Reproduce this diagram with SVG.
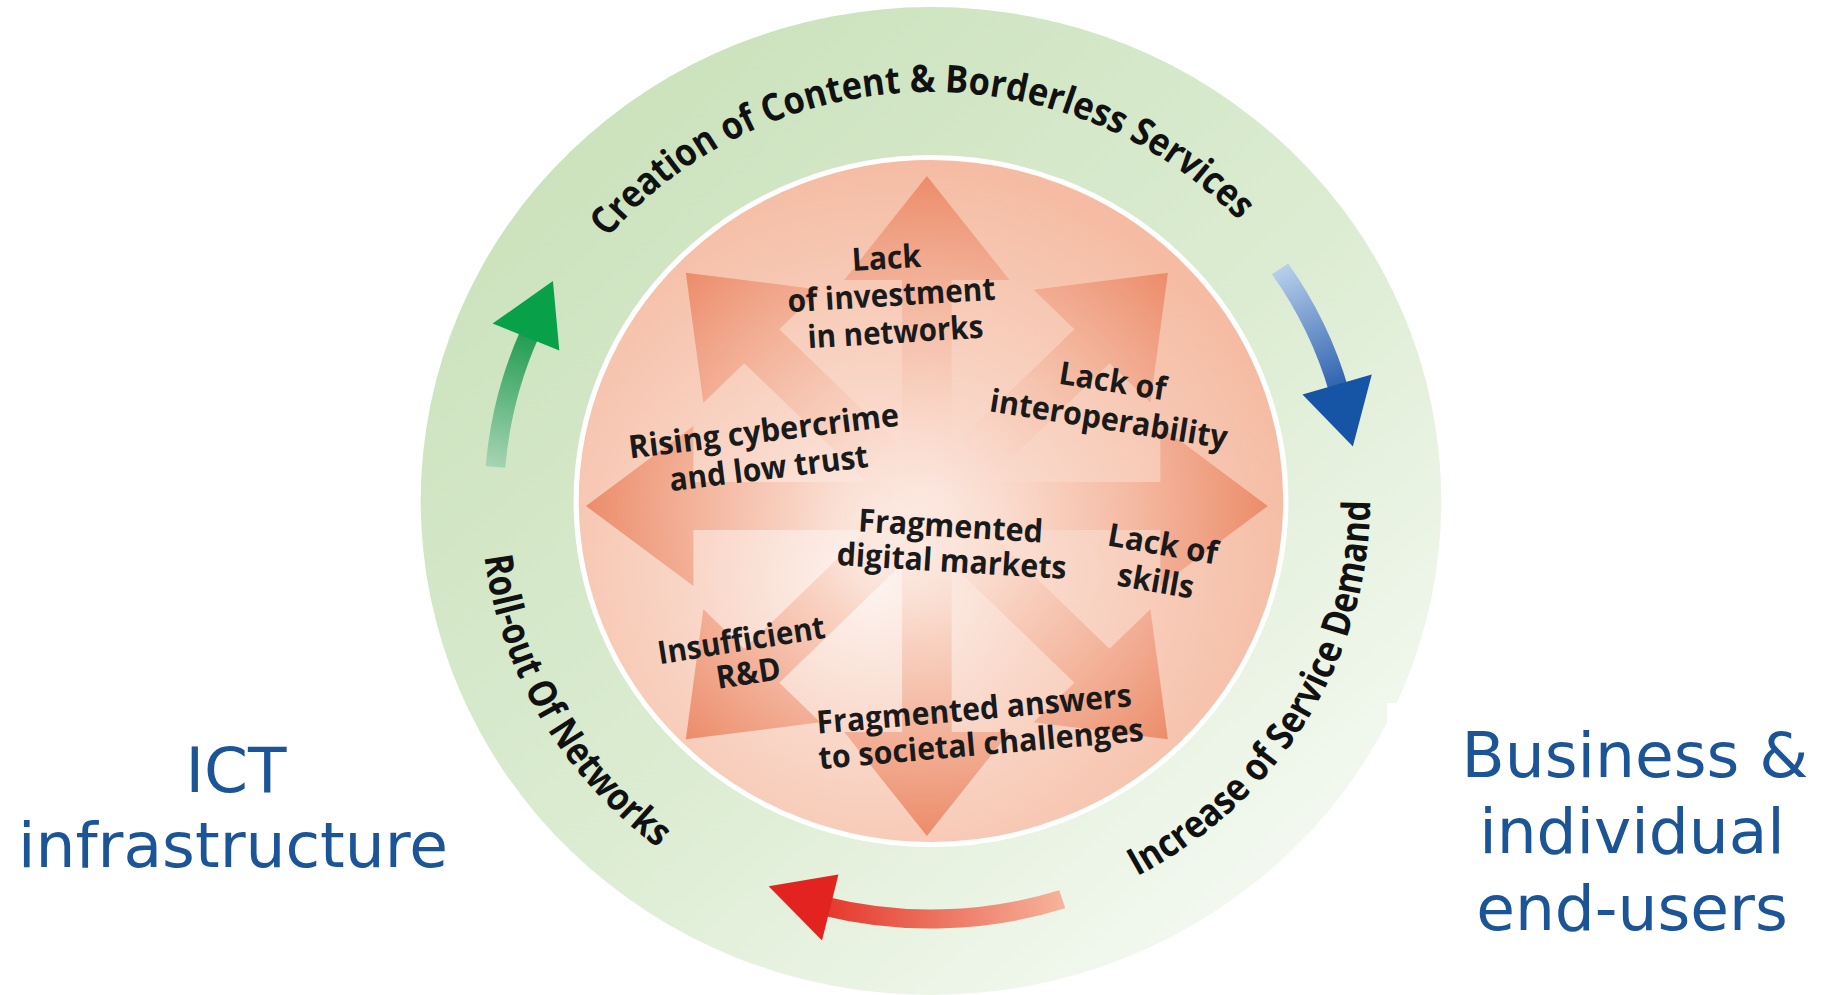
<svg xmlns="http://www.w3.org/2000/svg" width="1826" height="995" viewBox="0 0 1826 995">
<defs>
<linearGradient id="ringG" x1="0.15" y1="0.1" x2="0.85" y2="0.9">
<stop offset="0" stop-color="#cbe2bc"/>
<stop offset="0.55" stop-color="#dcecd2"/>
<stop offset="1" stop-color="#f4f9f1"/>
</linearGradient>
<radialGradient id="coreG" gradientUnits="userSpaceOnUse" cx="-40" cy="60" r="400" fx="-60" fy="80">
<stop offset="0" stop-color="#fdf4f0"/>
<stop offset="0.45" stop-color="#f9d6c7"/>
<stop offset="1" stop-color="#f5bca3"/>
</radialGradient>
<radialGradient id="burstG" gradientUnits="userSpaceOnUse" cx="0" cy="0" r="330">
<stop offset="0" stop-color="#fdeee8" stop-opacity="0.05"/>
<stop offset="0.4" stop-color="#f7c7b3" stop-opacity="0.65"/>
<stop offset="1" stop-color="#ec8c6a"/>
</radialGradient>
<linearGradient id="greenG" gradientUnits="userSpaceOnUse" x1="-421.6" y1="-33.9" x2="-387.9" y2="-168.7">
<stop offset="0" stop-color="#a6d4b3"/>
<stop offset="1" stop-color="#1f9b50"/>
</linearGradient>
<linearGradient id="blueG" gradientUnits="userSpaceOnUse" x1="337.9" y1="-232.2" x2="395.1" y2="-109.6">
<stop offset="0" stop-color="#b8cfea"/>
<stop offset="1" stop-color="#2a5fae"/>
</linearGradient>
<linearGradient id="redG" gradientUnits="userSpaceOnUse" x1="127.1" y1="398.2" x2="-104.7" y2="404.7">
<stop offset="0" stop-color="#f6b39b"/>
<stop offset="1" stop-color="#e4372a"/>
</linearGradient>
<polygon id="burst" points="0,-330 80,-226 24,-226 24,0 -24,0 -24,-226 -80,-226"/>
<path id="pTop" d="M -335,-234.6 A 409 409 0 0 1 335,-234.6"/>
<path id="pRight" d="M 138.4,401.8 A 425 425 0 0 0 419.8,-66.5"/>
<path id="pLeft" d="M -434.3,38 A 436 436 0 0 0 -250.1,357.2"/>
</defs>
<style>
.lbl{font-family:"Open Sans","Liberation Sans",sans-serif;font-weight:700;font-size:32px;fill:#1a1a1a;text-anchor:middle}
.ring{font-family:"Open Sans","Liberation Sans",sans-serif;font-weight:700;font-size:38px;fill:#111111;text-anchor:middle}
.side{font-family:"DejaVu Sans","Liberation Sans",sans-serif;font-size:63px;fill:#1b5597;text-anchor:middle}
.shaft{fill:none;stroke-width:19}
</style>
<rect width="1826" height="995" fill="#ffffff"/>
<g id="diagram" transform="translate(931,501) scale(1.033,1)">
<g id="ring">
<circle cx="0" cy="0" r="494" fill="url(#ringG)"/>
</g>
<g id="core">
<circle cx="0" cy="0" r="343.5" fill="url(#coreG)" stroke="#ffffff" stroke-width="5"/>
<g id="burst-arrows" transform="translate(-4,5)" fill="url(#burstG)">
<use href="#burst"/>
<use href="#burst" transform="rotate(45)"/>
<use href="#burst" transform="rotate(90)"/>
<use href="#burst" transform="rotate(135)"/>
<use href="#burst" transform="rotate(180)"/>
<use href="#burst" transform="rotate(225)"/>
<use href="#burst" transform="rotate(270)"/>
<use href="#burst" transform="rotate(315)"/>
</g>
</g>
<g id="ring-labels">
<text class="ring"><textPath href="#pTop" startOffset="381" textLength="690" lengthAdjust="spacingAndGlyphs">Creation of Content &amp; Borderless Services</textPath></text>
<text class="ring"><textPath href="#pRight" startOffset="50%" textLength="460" lengthAdjust="spacingAndGlyphs">Increase of Service Demand</textPath></text>
<text class="ring"><textPath href="#pLeft" startOffset="50%" textLength="345" lengthAdjust="spacingAndGlyphs">Roll-out Of Networks</textPath></text>
</g>
<g id="connectors">
<g id="arrow-green">
<path class="shaft" stroke="url(#greenG)" d="M -421.6,-33.9 A 423 423 0 0 1 -387.9,-168.7"/>
<polygon points="-424.4,-177.5 -366,-219.9 -359.8,-150.5" fill="#08a049"/>
</g>
<g id="arrow-blue">
<path class="shaft" stroke="url(#blueG)" d="M 337.9,-232.2 A 410 410 0 0 1 395.1,-109.6"/>
<polygon points="426.7,-126.4 408.4,-54.5 359.6,-106.5" fill="#1655a5"/>
</g>
<g id="arrow-red">
<path class="shaft" stroke="url(#redG)" d="M 127.1,398.2 A 418 418 0 0 1 -104.7,404.7"/>
<polygon points="-105.5,439.5 -157.2,385.2 -89.6,373.4" fill="#e2231f"/>
</g>
</g>
</g>
<rect x="1387" y="703" width="24" height="20" fill="#ffffff"/>
<g id="node-investment">
<text class="lbl" transform="translate(887,269) rotate(-3.5)" textLength="69" lengthAdjust="spacingAndGlyphs">Lack</text>
<text class="lbl" transform="translate(892,306) rotate(-3.5)" textLength="208" lengthAdjust="spacingAndGlyphs">of investment</text>
<text class="lbl" transform="translate(896,343) rotate(-3.5)" textLength="176" lengthAdjust="spacingAndGlyphs">in networks</text>
</g>
<g id="node-interoperability">
<text class="lbl" transform="translate(1111,392) rotate(9)" textLength="108" lengthAdjust="spacingAndGlyphs">Lack of</text>
<text class="lbl" transform="translate(1107,430) rotate(9)" textLength="240" lengthAdjust="spacingAndGlyphs">interoperability</text>
</g>
<g id="node-cybercrime">
<text class="lbl" transform="translate(765,442) rotate(-7)" textLength="272" lengthAdjust="spacingAndGlyphs">Rising cybercrime</text>
<text class="lbl" transform="translate(770,479) rotate(-7)" textLength="200" lengthAdjust="spacingAndGlyphs">and low trust</text>
</g>
<g id="node-markets">
<text class="lbl" transform="translate(950,537) rotate(3.5)" textLength="185" lengthAdjust="spacingAndGlyphs">Fragmented</text>
<text class="lbl" transform="translate(951,572) rotate(3.5)" textLength="230" lengthAdjust="spacingAndGlyphs">digital markets</text>
</g>
<g id="node-skills">
<text class="lbl" transform="translate(1161,555) rotate(10)" textLength="111" lengthAdjust="spacingAndGlyphs">Lack of</text>
<text class="lbl" transform="translate(1154,592) rotate(10)" textLength="77" lengthAdjust="spacingAndGlyphs">skills</text>
</g>
<g id="node-rnd">
<text class="lbl" transform="translate(743,651) rotate(-9)" textLength="169" lengthAdjust="spacingAndGlyphs">Insufficient</text>
<text class="lbl" transform="translate(750,684) rotate(-9)" textLength="65" lengthAdjust="spacingAndGlyphs">R&amp;D</text>
</g>
<g id="node-societal">
<text class="lbl" transform="translate(975,720) rotate(-5)" textLength="316" lengthAdjust="spacingAndGlyphs">Fragmented answers</text>
<text class="lbl" transform="translate(982,755) rotate(-5)" textLength="326" lengthAdjust="spacingAndGlyphs">to societal challenges</text>
</g>
<g id="node-ict">
<text class="side" x="236" y="792">ICT</text>
<text class="side" x="233" y="867">infrastructure</text>
</g>
<g id="node-users">
<text class="side" x="1635" y="777">Business &amp;</text>
<text class="side" x="1632" y="853">individual</text>
<text class="side" x="1632" y="930">end-users</text>
</g>
</svg>
